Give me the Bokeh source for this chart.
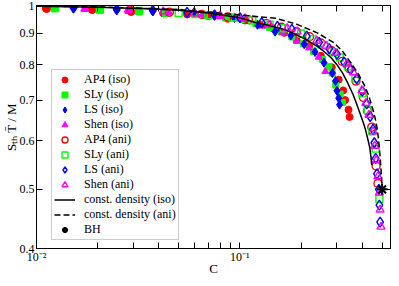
from bokeh.plotting import figure
from bokeh.models import LogAxis, FixedTicker, Legend, LegendItem
from bokeh.embed import file_html
from bokeh.resources import INLINE

# ---------------- data ----------------
ap4_iso_c = [0.0112, 0.0188, 0.0292, 0.042, 0.055, 0.070, 0.087, 0.106, 0.125, 0.145,
             0.165, 0.190, 0.219, 0.250, 0.283, 0.306, 0.322, 0.329, 0.342, 0.346]
ap4_iso_y = [0.988, 0.984, 0.976, 0.971, 0.967, 0.961, 0.951, 0.945, 0.930, 0.918,
             0.902, 0.878, 0.858, 0.827, 0.792, 0.756, 0.726, 0.700, 0.675, 0.657]

sly_iso_c = [0.0123, 0.0205, 0.032, 0.043, 0.060, 0.067, 0.085, 0.103, 0.120, 0.140,
             0.160, 0.180, 0.205, 0.230, 0.255, 0.274, 0.284, 0.296, 0.311, 0.319]
sly_iso_y = [0.988, 0.982, 0.976, 0.970, 0.966, 0.964, 0.954, 0.948, 0.933, 0.920,
             0.905, 0.888, 0.866, 0.841, 0.816, 0.794, 0.775, 0.741, 0.716, 0.694]

ls_iso_c = [0.0152, 0.0248, 0.0373, 0.0596, 0.075, 0.094, 0.122, 0.149, 0.178, 0.207,
            0.234, 0.259, 0.285, 0.295, 0.300, 0.306, 0.309]
ls_iso_y = [0.990, 0.982, 0.978, 0.976, 0.962, 0.954, 0.930, 0.906, 0.893, 0.864,
            0.839, 0.806, 0.775, 0.752, 0.725, 0.705, 0.688]

shen_iso_c = [0.0173, 0.0283, 0.045, 0.065, 0.080, 0.100, 0.133, 0.162, 0.190, 0.219,
              0.244, 0.263]
shen_iso_y = [0.985, 0.978, 0.973, 0.966, 0.958, 0.950, 0.925, 0.903, 0.874, 0.852,
              0.823, 0.780]

ap4_ani_c = [0.0112, 0.0188, 0.0292, 0.045, 0.065, 0.087, 0.110, 0.135, 0.160, 0.190,
             0.220, 0.250, 0.283, 0.319, 0.345, 0.372, 0.405, 0.424, 0.445, 0.467, 0.477]
ap4_ani_y = [0.990, 0.986, 0.981, 0.975, 0.967, 0.958, 0.948, 0.934, 0.921, 0.906,
             0.889, 0.868, 0.843, 0.810, 0.788, 0.752, 0.707, 0.672, 0.632, 0.546, 0.511]

sly_ani_c = [0.0123, 0.0205, 0.032, 0.050, 0.070, 0.092, 0.115, 0.140, 0.165, 0.200,
             0.230, 0.260, 0.290, 0.310, 0.340, 0.370, 0.400, 0.425, 0.448, 0.465, 0.485]
sly_ani_y = [0.990, 0.985, 0.980, 0.972, 0.964, 0.956, 0.945, 0.930, 0.918, 0.900,
             0.880, 0.860, 0.838, 0.822, 0.795, 0.760, 0.718, 0.674, 0.622, 0.583, 0.482]

ls_ani_c = [0.0152, 0.0248, 0.0373, 0.055, 0.075, 0.100, 0.128, 0.153, 0.180, 0.213,
            0.245, 0.275, 0.300, 0.325, 0.350, 0.375, 0.400, 0.420, 0.437, 0.451,
            0.458, 0.465, 0.472, 0.482, 0.485, 0.489]
ls_ani_y = [0.991, 0.986, 0.982, 0.974, 0.965, 0.955, 0.937, 0.924, 0.914, 0.891,
            0.870, 0.850, 0.832, 0.808, 0.785, 0.758, 0.724, 0.690, 0.658, 0.627,
            0.596, 0.562, 0.530, 0.500, 0.471, 0.442]

shen_ani_c = [0.0173, 0.0283, 0.042, 0.060, 0.080, 0.106, 0.140, 0.171, 0.191, 0.238,
              0.265, 0.295, 0.335, 0.361, 0.398, 0.416, 0.431, 0.451, 0.460, 0.468,
              0.477, 0.485, 0.489, 0.494]
shen_ani_y = [0.988, 0.984, 0.978, 0.970, 0.962, 0.952, 0.930, 0.918, 0.907, 0.875,
              0.859, 0.836, 0.803, 0.777, 0.726, 0.692, 0.662, 0.622, 0.589, 0.558,
              0.525, 0.494, 0.463, 0.434]

const_iso_c = [0.01, 0.02, 0.035, 0.05, 0.07, 0.10, 0.12, 0.14, 0.166, 0.19, 0.21, 0.24,
               0.26, 0.28, 0.30, 0.32, 0.34, 0.36, 0.375, 0.39, 0.405, 0.415, 0.425,
               0.435, 0.441, 0.4444]
const_iso_y = [0.997, 0.993, 0.988, 0.982, 0.972, 0.955, 0.937, 0.927, 0.913, 0.895, 0.880,
               0.857, 0.840, 0.822, 0.800, 0.775, 0.745, 0.715, 0.690, 0.665, 0.642,
               0.625, 0.605, 0.585, 0.565, 0.548]

const_ani_c = [0.01, 0.02, 0.05, 0.10, 0.15, 0.19, 0.24, 0.29, 0.32, 0.348, 0.38, 0.408,
               0.43, 0.442, 0.455, 0.465, 0.471, 0.48, 0.49, 0.5]
const_ani_y = [0.998, 0.995, 0.985, 0.965, 0.953, 0.932, 0.902, 0.869, 0.841, 0.809, 0.775,
               0.742, 0.712, 0.690, 0.668, 0.648, 0.634, 0.605, 0.560, 0.505]

bh_c = [0.5]
bh_y = [0.5]

x_tick_values = [0.01, 0.02, 0.03, 0.04, 0.05, 0.06, 0.07, 0.08, 0.09,
                 0.1, 0.2, 0.3, 0.4, 0.5]
x_tick_labels = ["10\u207b\u00b2", "", "", "", "", "", "", "", "",
                 "10\u207b\u00b9", "", "", "", ""]
y_tick_values = [0.4, 0.5, 0.6, 0.7, 0.8, 0.9, 1.0]
y_tick_labels = ["0.4", "0.5", "0.6", "0.7", "0.8", "0.9", "1"]

RED, GREEN, BLUE, MAGENTA = "#ff0000", "#00ff00", "#0000ff", "#ff00ff"
FONT = "Liberation Serif"

p = figure(width=391, height=278, x_axis_type="log", y_axis_type="log",
           x_range=(0.01, 0.55), y_range=(0.4, 1.0),
           output_backend="svg", toolbar_location=None,
           min_border_left=0, min_border_right=1, min_border_top=5, min_border_bottom=0)
p.grid.visible = False
p.outline_line_color = "black"
p.outline_line_width = 1

xaxis = p.xaxis[0]
yaxis = p.yaxis[0]
xaxis.ticker = FixedTicker(ticks=x_tick_values)
yaxis.ticker = FixedTicker(ticks=y_tick_values)
xaxis.major_label_overrides = dict(zip(x_tick_values, x_tick_labels))
yaxis.major_label_overrides = dict(zip(y_tick_values, y_tick_labels))
xaxis.axis_label = "C"
yaxis.axis_label = "S\u209c\u2095 T\u0304 / M"

top = LogAxis(ticker=FixedTicker(ticks=x_tick_values))
right = LogAxis(ticker=FixedTicker(ticks=y_tick_values))
top.major_label_overrides = {v: "" for v in x_tick_values}
right.major_label_overrides = {v: "" for v in y_tick_values}
top.major_label_text_font_size = "0px"
right.major_label_text_font_size = "0px"
top.major_label_standoff = 0
right.major_label_standoff = 0
p.add_layout(top, "above")
p.add_layout(right, "right")

for ax in (xaxis, yaxis, top, right):
    ax.major_tick_in = 6
    ax.major_tick_out = 0
    ax.minor_tick_in = 0
    ax.minor_tick_out = 0
    ax.axis_line_color = "black"
    ax.major_tick_line_color = "black"
for ax in (xaxis, yaxis):
    ax.major_label_text_font = FONT
    ax.major_label_text_font_size = "12px"
    ax.major_label_text_color = "black"
    ax.axis_label_text_font = FONT
    ax.axis_label_text_font_size = "13px"
    ax.axis_label_text_font_style = "normal"
    ax.axis_label_text_color = "black"
xaxis.major_label_standoff = 1
xaxis.axis_label_standoff = -6
yaxis.major_label_standoff = 2
yaxis.axis_label_standoff = -2

series = [
    ("AP4 (iso)", ap4_iso_c, ap4_iso_y, "circle", RED, True, 7),
    ("SLy (iso)", sly_iso_c, sly_iso_y, "square", GREEN, True, 6),
    ("LS (iso)", ls_iso_c, ls_iso_y, "diamond", BLUE, True, 9),
    ("Shen (iso)", shen_iso_c, shen_iso_y, "triangle", MAGENTA, True, 7),
    ("AP4 (ani)", ap4_ani_c, ap4_ani_y, "circle", RED, False, 8),
    ("SLy (ani)", sly_ani_c, sly_ani_y, "square", GREEN, False, 7),
    ("LS (ani)", ls_ani_c, ls_ani_y, "diamond", BLUE, False, 10),
    ("Shen (ani)", shen_ani_c, shen_ani_y, "triangle", MAGENTA, False, 8),
]

items = []
for label, cx, cy, mk, col, filled, sz in series:
    r = p.scatter(cx, cy, marker=mk, size=sz, line_color=col,
                  fill_color=col if filled else None,
                  line_width=1 if filled else 1.4)
    items.append(LegendItem(label=label, renderers=[r]))

r_iso = p.line(const_iso_c, const_iso_y, line_color="black", line_width=1.5)
r_ani = p.line(const_ani_c, const_ani_y, line_color="black", line_width=1.5,
               line_dash="6 3")
r_bh = p.scatter(bh_c, bh_y, marker="asterisk", size=11, line_color="black",
                 line_width=2)
items.append(LegendItem(label="const. density (iso)", renderers=[r_iso]))
items.append(LegendItem(label="const. density (ani)", renderers=[r_ani]))
items.append(LegendItem(label="BH", renderers=[r_bh]))

legend = Legend(items=items, location=(15, 8))
legend.label_text_font = FONT
legend.label_text_font_size = "12px"
legend.label_text_color = "black"
legend.glyph_width = 21
legend.glyph_height = 15
legend.label_height = 15
legend.spacing = 0
legend.padding = 2
legend.margin = 0
legend.label_standoff = 9
legend.border_line_color = "#999999"
legend.border_line_width = 1
legend.background_fill_alpha = 1
p.add_layout(legend, "center")

open("out.html", "w").write(file_html(p, INLINE))
